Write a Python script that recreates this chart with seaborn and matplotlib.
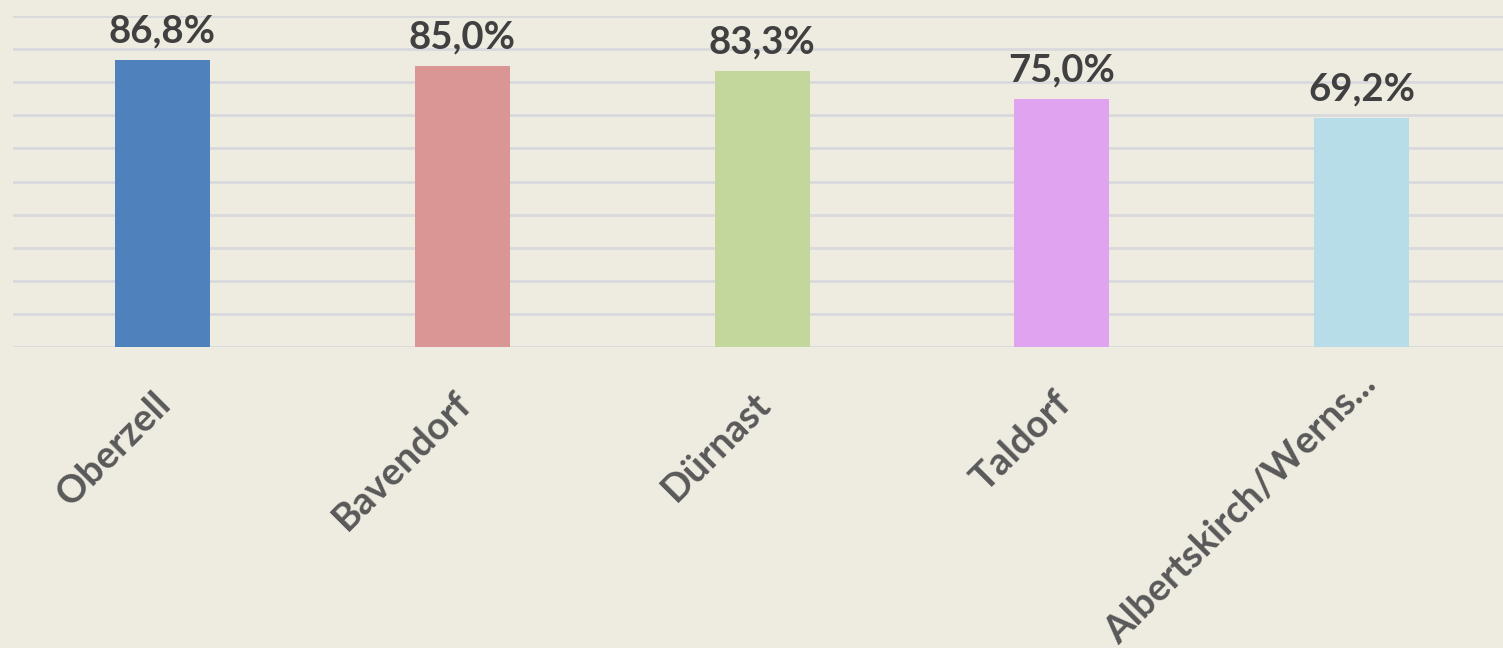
import matplotlib
matplotlib.use("Agg")
import matplotlib.pyplot as plt
import matplotlib.transforms as mtrans
import seaborn as sns
import pandas as pd

# data
orte = ["Oberzell", "Bavendorf", "Dürnast", "Taldorf", "Albertskirch/Werns..."]
anteil = [86.8, 85.0, 83.3, 75.0, 69.2]
farben = ["#4F81BD", "#D99694", "#C3D69B", "#E0A3F0", "#B7DDE8"]

df = pd.DataFrame({"ort": orte, "anteil": anteil})

bg = "#EEEBE0"
sns.set_theme(style="white")
plt.rcParams["font.family"] = ["Lato", "DejaVu Sans"]

fig = plt.figure(figsize=(15.03, 6.48), dpi=100, facecolor=bg)
ax = fig.add_axes([12.6 / 1503, 1 - 347 / 648, 1499 / 1503, 331 / 648])
ax.set_facecolor(bg)

sns.barplot(data=df, x="ort", y="anteil", hue="ort", palette=farben,
            width=0.317, saturation=1, linewidth=0, legend=False, ax=ax, zorder=3)

ax.set_ylim(0, 100)
ax.set_yticks(range(0, 101, 10))
ax.yaxis.grid(True, color="#D9D9DC", linewidth=2, zorder=0)
ax.tick_params(axis="y", left=False, labelleft=False)
ax.tick_params(axis="x", bottom=False, pad=22)
for s in ax.spines.values():
    s.set_visible(False)
ax.set_xlabel("")
ax.set_ylabel("")

for k, lbl in enumerate(ax.get_xticklabels()):
    lbl.set_rotation(45)
    lbl.set_ha("right")
    lbl.set_rotation_mode("anchor")
    lbl.set_fontsize(27.5)
    lbl.set_fontweight("bold")
    lbl.set_color("#595959")
    # long label sits higher, like in the original
    if k == len(orte) - 1:
        dx, dy = -0.04, 0.2
    else:
        dx, dy = -0.09, 0
    lbl.set_transform(lbl.get_transform() +
                      mtrans.ScaledTranslation(dx, dy, fig.dpi_scale_trans))

for i, v in enumerate(anteil):
    ax.text(i, v + 3.5, f"{v:.1f}%".replace(".", ","), ha="center", va="bottom",
            fontsize=27.5, fontweight="bold", color="#404040", zorder=4)

fig.savefig("out.png", dpi=100, facecolor=bg)
